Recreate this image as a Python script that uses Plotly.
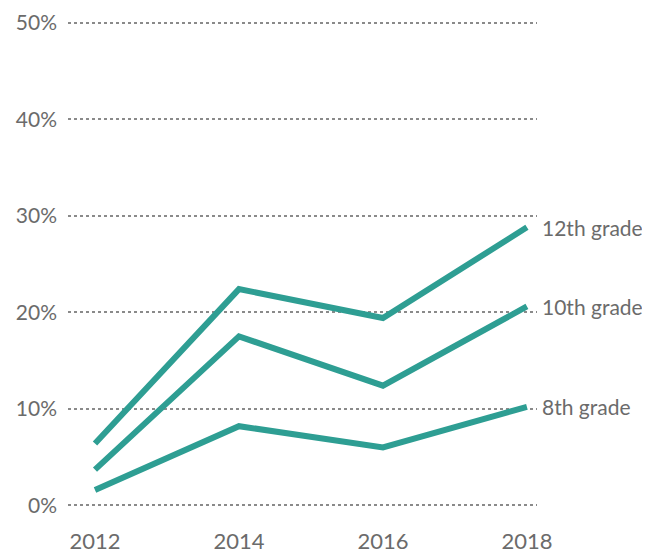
import plotly.graph_objects as go

years = [2012, 2014, 2016, 2018]
grade12 = [6.4, 22.4, 19.4, 28.8]
grade10 = [3.7, 17.5, 12.4, 20.6]
grade8 = [1.6, 8.2, 6.0, 10.2]

series = [("12th grade", grade12), ("10th grade", grade10), ("8th grade", grade8)]

teal = '#2e9e93'
gray = '#6b6b6b'

fig = go.Figure()

for name, vals in series:
    fig.add_trace(go.Scatter(
        x=years, y=vals,
        mode='lines',
        name=name,
        line=dict(color=teal, width=6),
        cliponaxis=False,
        hoverinfo='skip'
    ))
    # label at the end of each line
    fig.add_annotation(
        x=years[-1], y=vals[-1],
        text=name,
        xanchor='left', yanchor='middle',
        xshift=13, showarrow=False,
        font=dict(size=21, color=gray)
    )

# page body adds 8px margin, so figure is a bit smaller than the window
fig.update_layout(
    width=642, height=547,
    margin=dict(l=60, r=113, t=5.4, b=40.4),
    showlegend=False,
    plot_bgcolor='white',
    paper_bgcolor='white',
    font=dict(family='Lato, sans-serif', color=gray, size=19),
    xaxis=dict(
        range=[2011.625, 2018.14],
        tickvals=years,
        showgrid=False, zeroline=False, showline=False,
        ticks='', tickfont=dict(size=22),
        ticklabelstandoff=11, automargin=False
    ),
    yaxis=dict(
        range=[-1, 51],
        tickvals=[0, 10, 20, 30, 40, 50],
        ticktext=['0%', '10%', '20%', '30%', '40%', '50%'],
        showgrid=True, gridcolor='#8a8a8a', gridwidth=2, griddash='dot',
        zeroline=False, showline=False,
        ticks='', tickfont=dict(size=21),
        ticklabelstandoff=10, automargin=False
    )
)

fig.write_html("out.html")
